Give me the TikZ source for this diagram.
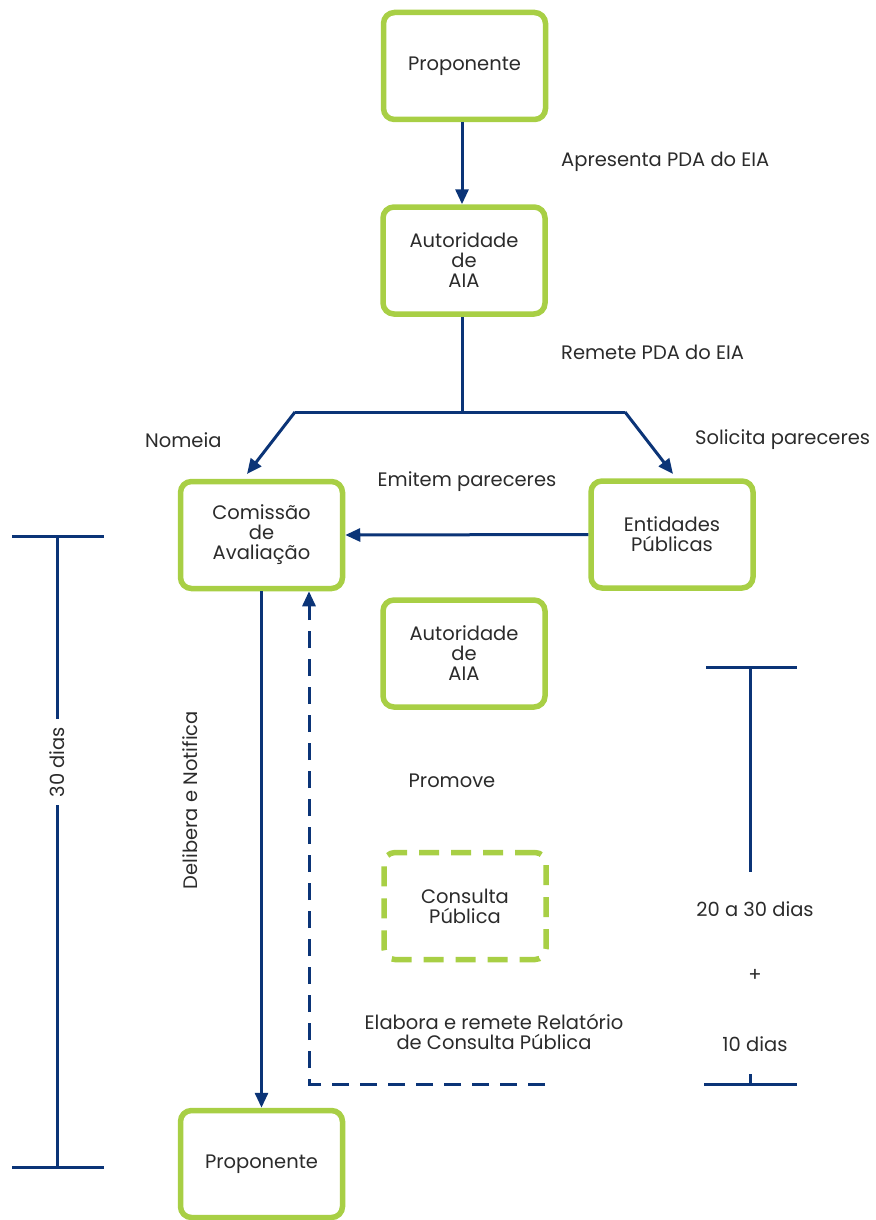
\documentclass[tikz,border=0pt]{standalone}
\usepackage{fontspec}
\setmainfont{Poppins}
\usetikzlibrary{arrows.meta}
\definecolor{lime}{HTML}{A8CF45}
\definecolor{navy}{HTML}{0B3477}
\definecolor{ink}{HTML}{2B2B2B}
\begin{document}
\begin{tikzpicture}[x=1pt,y=-1pt,
  every node/.style={text=ink, font=\fontsize{19.5}{23}\selectfont},
  box/.style={draw=lime, line width=5.5pt, rounded corners=11pt, fill=white,
    minimum width=162pt, minimum height=107pt, align=center, inner sep=0pt},
  dbox/.style={box, dash pattern=on 20pt off 12pt},
  conn/.style={draw=navy, line width=3pt},
  arr/.style={conn, -{Triangle[length=15pt,width=13pt]}},
  dconn/.style={arr, dash pattern=on 17pt off 11pt},
  lbl/.style={align=center, inner sep=0pt}]
\useasboundingbox (0,0) rectangle (875,1220);

% boxes
\node[box] (prop1) at (464.5,66) {Proponente};
\node[box] (aut1) at (464,260.5) {Autoridade\\[-3pt]de\\[-3pt]AIA};
\node[box] (com) at (261.5,535) {Comissão\\[-3pt]de\\[-3pt]Avaliação};
\node[box] (ent) at (672,534.5) {Entidades\\[-3pt]Públicas};
\node[box] (aut2) at (464,653.5) {Autoridade\\[-3pt]de\\[-3pt]AIA};
\node[dbox] (cons) at (465,906) {Consulta\\[-3pt]Pública};
\node[box] (prop2) at (261.5,1164) {Proponente};

% junction points
\coordinate (j) at (462,412);
\coordinate (jl) at (295,412);
\coordinate (jr) at (625,412);
\coordinate (tl) at (247,474);
\coordinate (tr) at (673,474);
\coordinate (d1) at (545,1084);
\coordinate (d2) at (309,1084);

% connectors
\draw[arr] (prop1.south -| j) -- (aut1.north -| j);
\draw[conn] (aut1.south -| j) -- (j);
\draw[conn] (jl) -- (jr);
\draw[arr] (jl) -- (tl);
\draw[arr] (jr) -- (tr);
\draw[arr] (ent.west) -- (com.east);
\draw[arr] (com.south) -- (prop2.north);
\draw[dconn] (d1) -- (d2) -- (d2 |- com.south);

% labels
\node[lbl, anchor=west] at (561,162) {Apresenta PDA do EIA};
\node[lbl, anchor=west] at (561,352) {Remete PDA do EIA};
\node[lbl, anchor=west] at (145,440) {Nomeia};
\node[lbl, anchor=west] at (695,440) {Solicita pareceres};
\node[lbl] at (467,482) {Emitem pareceres};
\node[lbl] at (452,781) {Promove};
\node[lbl] at (494,1032) {Elabora e remete Relatório\\[-3pt]de Consulta Pública};
\node[lbl, rotate=90] at (190,800) {Delibera e Notifica};

% 30 dias scale
\coordinate (la) at (57,536);
\coordinate (lb) at (57,1167);
\draw[conn] (12,536) -- (104,536);
\draw[conn] (12,1167) -- (104,1167);
\node[lbl, rotate=90, fill=white, inner ysep=10pt, inner xsep=8pt] (l30) at (57,762) {30 dias};
\draw[conn] (la) -- (l30.east);
\draw[conn] (l30.west) -- (lb);

% 20 a 30 dias + 10 dias scale
\draw[conn] (706,667) -- (797,667);
\draw[conn] (750,667) -- (750,872);
\draw[conn] (704,1084) -- (797,1084);
\draw[conn] (750,1074) -- (750,1084);
\node[lbl] at (755,909) {20 a 30 dias};
\node[lbl] at (755,975) {+};
\node[lbl] at (755,1044) {10 dias};
\end{tikzpicture}
\end{document}
